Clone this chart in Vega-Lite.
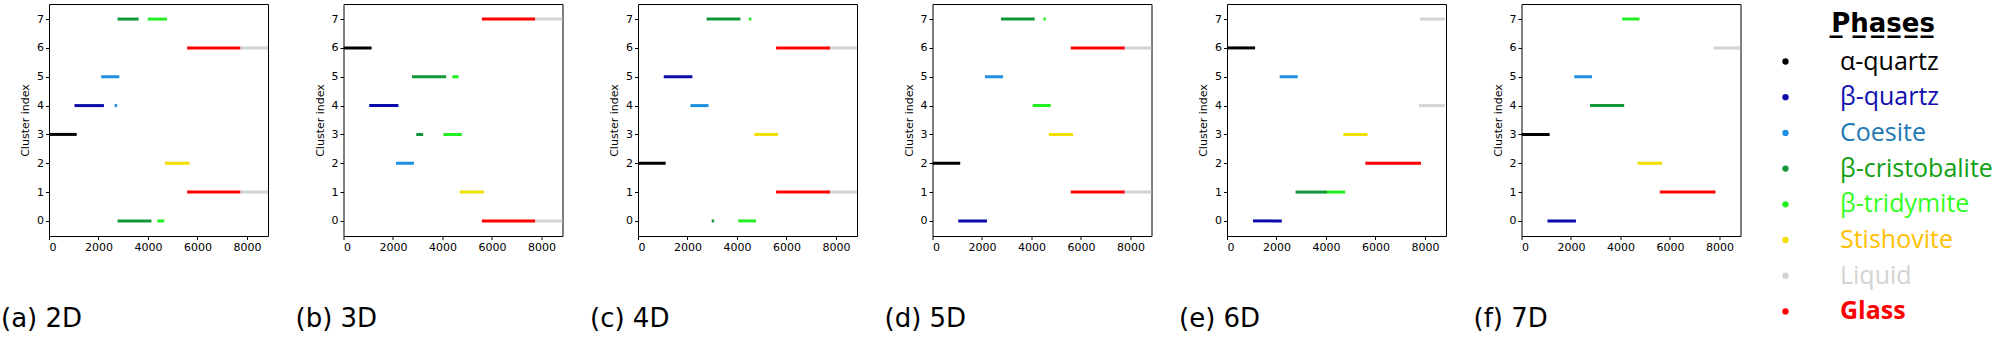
{
  "$schema": "https://vega.github.io/schema/vega-lite/v6.json",
  "padding": {"left": 0, "top": 3, "right": 0, "bottom": 0},
  "background": "#ffffff",
  "data": {"values": [
    {"p": "a", "c": 7, "s": 2770, "e": 3620, "ph": "β-cristobalite"},
    {"p": "a", "c": 7, "s": 3990, "e": 4770, "ph": "β-tridymite"},
    {"p": "a", "c": 6, "s": 5580, "e": 7740, "ph": "Glass"},
    {"p": "a", "c": 6, "s": 7740, "e": 8850, "ph": "Liquid"},
    {"p": "a", "c": 5, "s": 2110, "e": 2840, "ph": "Coesite"},
    {"p": "a", "c": 4, "s": 1030, "e": 2220, "ph": "β-quartz"},
    {"p": "a", "c": 4, "s": 2650, "e": 2750, "ph": "Coesite"},
    {"p": "a", "c": 3, "s": 0, "e": 1120, "ph": "α-quartz"},
    {"p": "a", "c": 2, "s": 4680, "e": 5680, "ph": "Stishovite"},
    {"p": "a", "c": 1, "s": 5580, "e": 7740, "ph": "Glass"},
    {"p": "a", "c": 1, "s": 7740, "e": 8850, "ph": "Liquid"},
    {"p": "a", "c": 0, "s": 2770, "e": 4140, "ph": "β-cristobalite"},
    {"p": "a", "c": 0, "s": 4380, "e": 4660, "ph": "β-tridymite"},

    {"p": "b", "c": 7, "s": 5590, "e": 7750, "ph": "Glass"},
    {"p": "b", "c": 7, "s": 7750, "e": 8850, "ph": "Liquid"},
    {"p": "b", "c": 6, "s": 0, "e": 1135, "ph": "α-quartz"},
    {"p": "b", "c": 5, "s": 2770, "e": 4150, "ph": "β-cristobalite"},
    {"p": "b", "c": 5, "s": 4400, "e": 4650, "ph": "β-tridymite"},
    {"p": "b", "c": 4, "s": 1040, "e": 2220, "ph": "β-quartz"},
    {"p": "b", "c": 3, "s": 2940, "e": 3220, "ph": "β-cristobalite"},
    {"p": "b", "c": 3, "s": 4040, "e": 4780, "ph": "β-tridymite"},
    {"p": "b", "c": 2, "s": 2120, "e": 2850, "ph": "Coesite"},
    {"p": "b", "c": 1, "s": 4700, "e": 5680, "ph": "Stishovite"},
    {"p": "b", "c": 0, "s": 5590, "e": 7750, "ph": "Glass"},
    {"p": "b", "c": 0, "s": 7750, "e": 8850, "ph": "Liquid"},

    {"p": "c", "c": 7, "s": 2770, "e": 4140, "ph": "β-cristobalite"},
    {"p": "c", "c": 7, "s": 4480, "e": 4580, "ph": "β-tridymite"},
    {"p": "c", "c": 6, "s": 5580, "e": 7770, "ph": "Glass"},
    {"p": "c", "c": 6, "s": 7770, "e": 8850, "ph": "Liquid"},
    {"p": "c", "c": 5, "s": 1040, "e": 2200, "ph": "β-quartz"},
    {"p": "c", "c": 4, "s": 2120, "e": 2850, "ph": "Coesite"},
    {"p": "c", "c": 3, "s": 4700, "e": 5660, "ph": "Stishovite"},
    {"p": "c", "c": 2, "s": 0, "e": 1120, "ph": "α-quartz"},
    {"p": "c", "c": 1, "s": 5580, "e": 7770, "ph": "Glass"},
    {"p": "c", "c": 1, "s": 7770, "e": 8850, "ph": "Liquid"},
    {"p": "c", "c": 0, "s": 2980, "e": 3080, "ph": "β-cristobalite"},
    {"p": "c", "c": 0, "s": 4050, "e": 4770, "ph": "β-tridymite"},

    {"p": "d", "c": 7, "s": 2770, "e": 4130, "ph": "β-cristobalite"},
    {"p": "d", "c": 7, "s": 4480, "e": 4580, "ph": "β-tridymite"},
    {"p": "d", "c": 6, "s": 5590, "e": 7770, "ph": "Glass"},
    {"p": "d", "c": 6, "s": 7770, "e": 8850, "ph": "Liquid"},
    {"p": "d", "c": 5, "s": 2120, "e": 2850, "ph": "Coesite"},
    {"p": "d", "c": 4, "s": 4050, "e": 4780, "ph": "β-tridymite"},
    {"p": "d", "c": 3, "s": 4700, "e": 5680, "ph": "Stishovite"},
    {"p": "d", "c": 2, "s": 0, "e": 1120, "ph": "α-quartz"},
    {"p": "d", "c": 1, "s": 5590, "e": 7770, "ph": "Glass"},
    {"p": "d", "c": 1, "s": 7770, "e": 8850, "ph": "Liquid"},
    {"p": "d", "c": 0, "s": 1040, "e": 2200, "ph": "β-quartz"},

    {"p": "e", "c": 7, "s": 7800, "e": 8810, "ph": "Liquid"},
    {"p": "e", "c": 6, "s": 0, "e": 1135, "ph": "α-quartz"},
    {"p": "e", "c": 5, "s": 2130, "e": 2860, "ph": "Coesite"},
    {"p": "e", "c": 4, "s": 7760, "e": 8810, "ph": "Liquid"},
    {"p": "e", "c": 3, "s": 4700, "e": 5680, "ph": "Stishovite"},
    {"p": "e", "c": 2, "s": 5590, "e": 7840, "ph": "Glass"},
    {"p": "e", "c": 1, "s": 2770, "e": 4040, "ph": "β-cristobalite"},
    {"p": "e", "c": 1, "s": 4040, "e": 4780, "ph": "β-tridymite"},
    {"p": "e", "c": 0, "s": 1050, "e": 2215, "ph": "β-quartz"},

    {"p": "f", "c": 7, "s": 4070, "e": 4770, "ph": "β-tridymite"},
    {"p": "f", "c": 6, "s": 7760, "e": 8820, "ph": "Liquid"},
    {"p": "f", "c": 5, "s": 2130, "e": 2850, "ph": "Coesite"},
    {"p": "f", "c": 4, "s": 2770, "e": 4150, "ph": "β-cristobalite"},
    {"p": "f", "c": 3, "s": 0, "e": 1135, "ph": "α-quartz"},
    {"p": "f", "c": 2, "s": 4690, "e": 5680, "ph": "Stishovite"},
    {"p": "f", "c": 1, "s": 5590, "e": 7840, "ph": "Glass"},
    {"p": "f", "c": 0, "s": 1050, "e": 2200, "ph": "β-quartz"}
  ]},
  "spacing": 25.5,
  "hconcat": [
    {"width": 219, "height": 232, "transform": [{"filter": "datum.p == 'a'"}],
     "title": {"text": "(a) 2D", "orient": "bottom", "anchor": "start", "frame": "group", "dx": -48, "baseline": "alphabetic", "offset": 74},
     "mark": {"type": "bar", "height": 3, "clip": true},
     "encoding": {
       "x": {"field": "s", "type": "quantitative", "scale": {"domain": [0, 8850], "nice": false}, "axis": {"title": null, "values": [0, 2000, 4000, 6000, 8000], "format": "d"}},
       "x2": {"field": "e"},
       "y": {"field": "c", "type": "quantitative", "scale": {"domain": [-0.35, 7.35], "nice": false, "zero": false}, "axis": {"title": "Cluster index", "values": [0, 1, 2, 3, 4, 5, 6, 7]}},
       "color": {"field": "ph", "type": "nominal", "title": "P̲h̲a̲s̲e̲s̲",
         "scale": {"domain": ["α-quartz", "β-quartz", "Coesite", "β-cristobalite", "β-tridymite", "Stishovite", "Liquid", "Glass"],
                   "range": ["#000000", "#0a0aa8", "#1e8fe0", "#11963a", "#22ee22", "#f0e000", "#d3d3d3", "#ff0000"]}}
     }},
    {"width": 219, "height": 232, "transform": [{"filter": "datum.p == 'b'"}],
     "title": {"text": "(b) 3D", "orient": "bottom", "anchor": "start", "frame": "group", "dx": -48, "baseline": "alphabetic", "offset": 74},
     "mark": {"type": "bar", "height": 3, "clip": true},
     "encoding": {
       "x": {"field": "s", "type": "quantitative", "scale": {"domain": [0, 8850], "nice": false}, "axis": {"title": null, "values": [0, 2000, 4000, 6000, 8000], "format": "d"}},
       "x2": {"field": "e"},
       "y": {"field": "c", "type": "quantitative", "scale": {"domain": [-0.35, 7.35], "nice": false, "zero": false}, "axis": {"title": "Cluster index", "values": [0, 1, 2, 3, 4, 5, 6, 7]}},
       "color": {"field": "ph", "type": "nominal", "title": "P̲h̲a̲s̲e̲s̲"}
     }},
    {"width": 219, "height": 232, "transform": [{"filter": "datum.p == 'c'"}],
     "title": {"text": "(c) 4D", "orient": "bottom", "anchor": "start", "frame": "group", "dx": -48, "baseline": "alphabetic", "offset": 74},
     "mark": {"type": "bar", "height": 3, "clip": true},
     "encoding": {
       "x": {"field": "s", "type": "quantitative", "scale": {"domain": [0, 8850], "nice": false}, "axis": {"title": null, "values": [0, 2000, 4000, 6000, 8000], "format": "d"}},
       "x2": {"field": "e"},
       "y": {"field": "c", "type": "quantitative", "scale": {"domain": [-0.35, 7.35], "nice": false, "zero": false}, "axis": {"title": "Cluster index", "values": [0, 1, 2, 3, 4, 5, 6, 7]}},
       "color": {"field": "ph", "type": "nominal", "title": "P̲h̲a̲s̲e̲s̲"}
     }},
    {"width": 219, "height": 232, "transform": [{"filter": "datum.p == 'd'"}],
     "title": {"text": "(d) 5D", "orient": "bottom", "anchor": "start", "frame": "group", "dx": -48, "baseline": "alphabetic", "offset": 74},
     "mark": {"type": "bar", "height": 3, "clip": true},
     "encoding": {
       "x": {"field": "s", "type": "quantitative", "scale": {"domain": [0, 8850], "nice": false}, "axis": {"title": null, "values": [0, 2000, 4000, 6000, 8000], "format": "d"}},
       "x2": {"field": "e"},
       "y": {"field": "c", "type": "quantitative", "scale": {"domain": [-0.35, 7.35], "nice": false, "zero": false}, "axis": {"title": "Cluster index", "values": [0, 1, 2, 3, 4, 5, 6, 7]}},
       "color": {"field": "ph", "type": "nominal", "title": "P̲h̲a̲s̲e̲s̲"}
     }},
    {"width": 219, "height": 232, "transform": [{"filter": "datum.p == 'e'"}],
     "title": {"text": "(e) 6D", "orient": "bottom", "anchor": "start", "frame": "group", "dx": -48, "baseline": "alphabetic", "offset": 74},
     "mark": {"type": "bar", "height": 3, "clip": true},
     "encoding": {
       "x": {"field": "s", "type": "quantitative", "scale": {"domain": [0, 8850], "nice": false}, "axis": {"title": null, "values": [0, 2000, 4000, 6000, 8000], "format": "d"}},
       "x2": {"field": "e"},
       "y": {"field": "c", "type": "quantitative", "scale": {"domain": [-0.35, 7.35], "nice": false, "zero": false}, "axis": {"title": "Cluster index", "values": [0, 1, 2, 3, 4, 5, 6, 7]}},
       "color": {"field": "ph", "type": "nominal", "title": "P̲h̲a̲s̲e̲s̲"}
     }},
    {"width": 219, "height": 232, "transform": [{"filter": "datum.p == 'f'"}],
     "title": {"text": "(f) 7D", "orient": "bottom", "anchor": "start", "frame": "group", "dx": -48, "baseline": "alphabetic", "offset": 74},
     "mark": {"type": "bar", "height": 3, "clip": true},
     "encoding": {
       "x": {"field": "s", "type": "quantitative", "scale": {"domain": [0, 8850], "nice": false}, "axis": {"title": null, "values": [0, 2000, 4000, 6000, 8000], "format": "d"}},
       "x2": {"field": "e"},
       "y": {"field": "c", "type": "quantitative", "scale": {"domain": [-0.35, 7.35], "nice": false, "zero": false}, "axis": {"title": "Cluster index", "values": [0, 1, 2, 3, 4, 5, 6, 7]}},
       "color": {"field": "ph", "type": "nominal", "title": "P̲h̲a̲s̲e̲s̲"}
     }}
  ],
  "resolve": {"scale": {"color": "shared"}, "legend": {"color": "shared"}},
  "config": {
    "view": {"stroke": "#000000", "strokeWidth": 1},
    "axis": {"labelFont": "DejaVu Sans", "labelFontSize": 11, "labelColor": "#000000", "titleFont": "DejaVu Sans", "titleFontSize": 11, "titleFontWeight": "normal", "titleColor": "#000000", "tickColor": "#000000", "tickSize": 3.5, "domain": false, "grid": false, "labelPadding": 2, "titlePadding": 6},
    "title": {"font": "DejaVu Sans", "fontSize": 26, "fontWeight": "normal", "color": "#000000"},
    "legend": {
      "orient": "none", "legendX": 1724, "legendY": 7, "padding": 0,
      "titleFont": "DejaVu Sans", "titleFontSize": 26, "titleFontWeight": "bold", "titleColor": "#000000", "titleAnchor": "middle", "titlePadding": 12,
      "labelFont": "Open Sans", "labelFontSize": 25, "labelOffset": 42, "rowPadding": 9.7, "labelLimit": 400,
      "symbolType": "circle", "symbolSize": 40, "symbolStrokeWidth": 0,
      "labelColor": {"expr": "['#000000','#1010b0','#1f78b4','#10a010','#33ff22','#ffc000','#d3d3d3','#ff0000'][indexof(['α-quartz','β-quartz','Coesite','β-cristobalite','β-tridymite','Stishovite','Liquid','Glass'], datum.value)]"},
      "labelFontWeight": {"expr": "datum.value == 'Glass' ? 'bold' : 'normal'"}
    }
  }
}
